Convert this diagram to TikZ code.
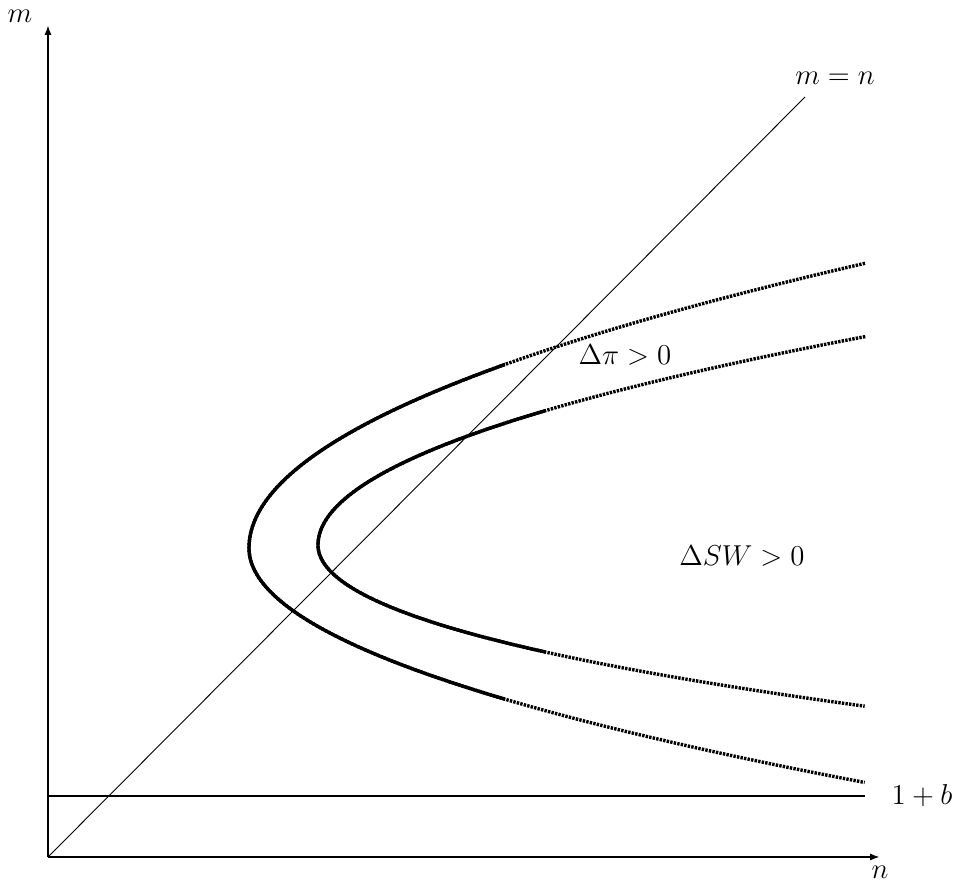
\documentclass[tikz,border=0pt]{standalone}
\usetikzlibrary{arrows.meta}
\begin{document}
\begin{tikzpicture}[x=0.5pt,y=-0.5pt,
  axis/.style={line width=1pt,-{Latex[length=5pt,width=3.6pt]}},
  thinline/.style={line width=0.45pt},
  bline/.style={line width=0.8pt},
  curvesolid/.style={line width=1.7pt},
  curvedot/.style={line width=1.7pt,dash pattern=on 1.2pt off 0.6pt},
  lab/.style={inner sep=1pt,font=\Large}]
\useasboundingbox (0,0) rectangle (962,886);
\coordinate (O) at (48,857);
\coordinate (mtop) at (48,25);
\coordinate (nend) at (880,857);
\coordinate (diagend) at (805,97);
\coordinate (bl) at (48,796);
\coordinate (br) at (865,796);
\draw[axis] (O) -- (mtop);
\draw[axis] (O) -- (nend);
\draw[thinline] (O) -- (diagend);
\draw[bline] (bl) -- (br);
\node[lab] (mlab) at (20,16) {$m$};
\node[lab] (nlab) at (880,872) {$n$};
\node[lab] (mnlab) at (835,78) {$m=n$};
\node[lab] (blab) at (922,796) {$1+b$};
\node[lab] (pilab) at (625,355) {$\Delta\pi>0$};
\node[lab] (swlab) at (742,556) {$\Delta SW>0$};
\def\outercurve{plot[domain=-2.847:0,samples=80] ({249+76*\x*\x},{548+100*\x}) -- plot[domain=0:2.345,samples=80] ({249+112*\x*\x},{548+100*\x})}
\def\innercurve{plot[domain=-2.084:0,samples=80] ({318+126*\x*\x},{545+100*\x}) -- plot[domain=0:1.612,samples=80] ({318+\x*\x*(175+22*\x)},{545+100*\x})}
\draw[curvedot] \outercurve;
\draw[curvedot] \innercurve;
\begin{scope}
\clip (0,0) rectangle (505,886);
\draw[curvesolid] \outercurve;
\end{scope}
\begin{scope}
\clip (0,0) rectangle (545,886);
\draw[curvesolid] \innercurve;
\end{scope}
\end{tikzpicture}
\end{document}
